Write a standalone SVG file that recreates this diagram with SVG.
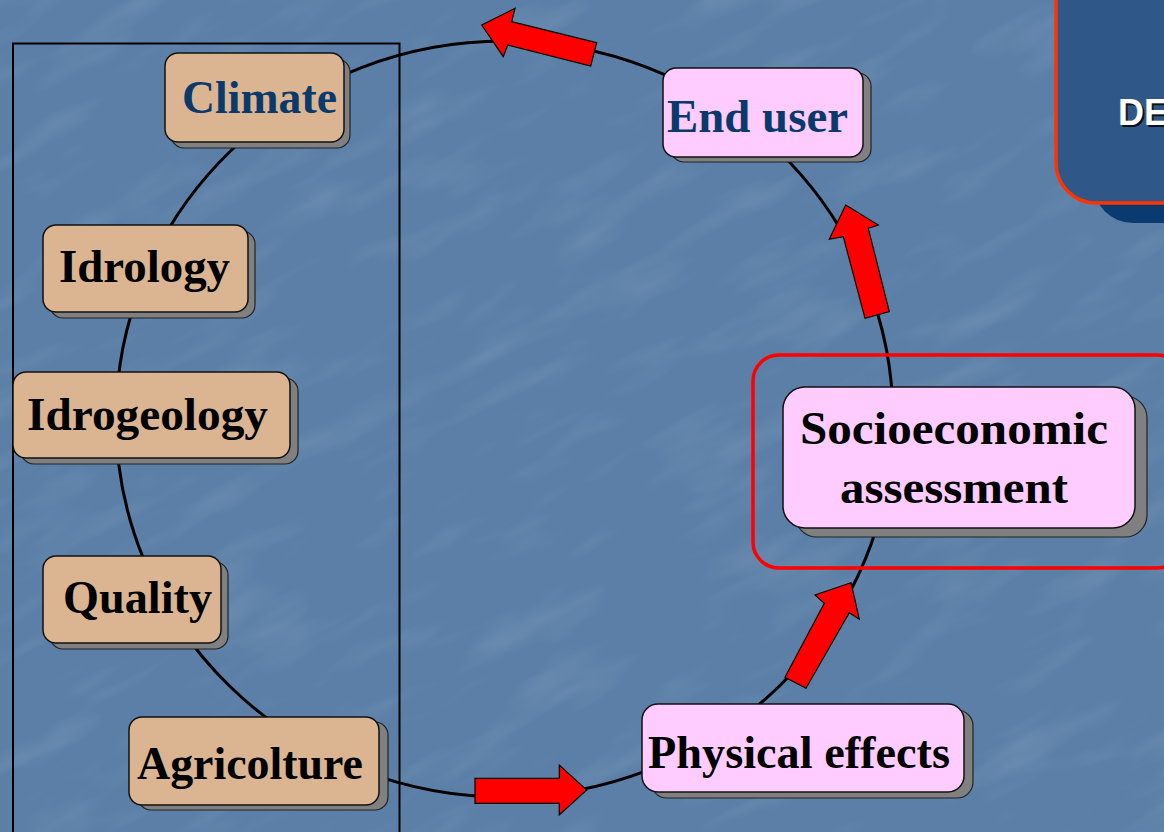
<svg xmlns="http://www.w3.org/2000/svg" width="1164" height="832" viewBox="0 0 1164 832">
  <defs>
    <filter id="tex" x="0" y="0" width="100%" height="100%">
      <feTurbulence type="fractalNoise" baseFrequency="0.008 0.03" numOctaves="3" seed="4" result="n"/>
      <feColorMatrix in="n" type="matrix" values="0 0 0 0 1  0 0 0 0 1  0 0 0 0 1  0 0 0 1.1 -0.55"/>
    </filter>
    <style>
      .shadow { fill: #808080; stroke: #222; stroke-width: 1.2; }
      .tan { fill: #dbb592; stroke: #111; stroke-width: 1.5; }
      .pink { fill: #ffccff; stroke: #111; stroke-width: 1.5; }
      .lbl { font-family: "Liberation Serif", "Times New Roman", serif; font-weight: bold; font-size: 46px; fill: #000; }
      .navy { fill: #0a3a6c; }
      .arrow { fill: #ff0000; stroke: #000; stroke-width: 1.2; stroke-linejoin: miter; }
      .de { font-family: "Liberation Sans", Arial, sans-serif; font-weight: bold; font-size: 36px; }
    </style>
  </defs>

  <!-- background -->
  <rect x="0" y="0" width="1164" height="832" fill="#5b7fa7"/>
  <g transform="rotate(-28 582 416)" opacity="0.22">
    <rect x="-400" y="-400" width="1964" height="1632" filter="url(#tex)"/>
  </g>

  <!-- top-right panel -->
  <g id="panel">
    <rect x="1093" y="-60" width="120" height="283" rx="40" fill="#0a3a70"/>
    <rect x="1056" y="-60" width="150" height="263" rx="40" fill="#2f5889" stroke="#ff3300" stroke-width="3.5"/>
    <text class="de" x="1120" y="127" fill="#000" opacity="0.8">DE</text>
    <text class="de" x="1118" y="125" fill="#ffffff">DE</text>
  </g>

  <!-- left frame -->
  <rect id="frame" x="13" y="43.5" width="386.5" height="800" fill="none" stroke="#000" stroke-width="2"/>

  <!-- connectors -->
  <g id="connectors">
    <ellipse cx="504.5" cy="419" rx="388.5" ry="378" fill="none" stroke="#000" stroke-width="3"/>
    <polygon class="arrow" points="481.7,25 515,8.3 511.7,21.7 596.7,42.7 590.7,66 507.7,45 503.3,56.7"/>
    <polygon class="arrow" points="845.7,205 878.3,225 868.3,228.3 889.3,311.7 865,318.3 843.3,236.7 829.3,239.3"/>
    <polygon class="arrow" points="851,582.7 859.3,619.3 849.3,612.7 806,688.3 785,677.3 824.3,603.3 815,595"/>
    <polygon class="arrow" points="475,778.3 559.3,778.3 559.3,765 586.7,790 559.3,815 559.3,803.3 475,803.3"/>
  </g>

  <!-- socioeconomic highlight -->
  <rect id="highlight" x="753" y="355" width="430" height="213" rx="26" fill="none" stroke="#ff0000" stroke-width="3.5"/>

  <g id="climate">
    <rect class="shadow" x="171" y="59" width="179" height="89" rx="13"/>
    <rect class="tan" x="165" y="53" width="179" height="89" rx="13"/>
    <text class="lbl navy" x="182" y="113" textLength="155" lengthAdjust="spacingAndGlyphs">Climate</text>
  </g>

  <g id="idrology">
    <rect class="shadow" x="50" y="231" width="205" height="87" rx="13"/>
    <rect class="tan" x="43" y="225" width="205" height="87" rx="13"/>
    <text class="lbl" x="59" y="282" textLength="171" lengthAdjust="spacingAndGlyphs">Idrology</text>
  </g>

  <g id="idrogeology">
    <rect class="shadow" x="21" y="378" width="277" height="86" rx="13"/>
    <rect class="tan" x="13" y="372" width="277" height="86" rx="13"/>
    <text class="lbl" x="27" y="430" textLength="241" lengthAdjust="spacingAndGlyphs">Idrogeology</text>
  </g>

  <g id="quality">
    <rect class="shadow" x="50" y="562" width="178" height="87" rx="13"/>
    <rect class="tan" x="43" y="556" width="178" height="87" rx="13"/>
    <text class="lbl" x="63" y="613" textLength="149" lengthAdjust="spacingAndGlyphs">Quality</text>
  </g>

  <g id="agricolture">
    <rect class="shadow" x="138" y="722" width="250" height="88" rx="13"/>
    <rect class="tan" x="129" y="717" width="250" height="88" rx="13"/>
    <text class="lbl" x="137" y="779" textLength="226" lengthAdjust="spacingAndGlyphs">Agricolture</text>
  </g>

  <g id="enduser">
    <rect class="shadow" x="671" y="73" width="200" height="89" rx="13"/>
    <rect class="pink" x="663" y="68" width="200" height="89" rx="13"/>
    <text class="lbl navy" x="667" y="132" textLength="181" lengthAdjust="spacingAndGlyphs">End user</text>
  </g>

  <g id="socioeconomic">
    <rect class="shadow" x="795" y="396" width="352" height="141" rx="22"/>
    <rect class="pink" x="783" y="387" width="352" height="141" rx="22"/>
    <text class="lbl" x="800" y="444" textLength="308" lengthAdjust="spacingAndGlyphs">Socioeconomic</text>
    <text class="lbl" x="840" y="503" textLength="228" lengthAdjust="spacingAndGlyphs">assessment</text>
  </g>

  <g id="physical">
    <rect class="shadow" x="651" y="710" width="322" height="88" rx="16"/>
    <rect class="pink" x="642" y="704" width="322" height="88" rx="16"/>
    <text class="lbl" x="648" y="768" textLength="302" lengthAdjust="spacingAndGlyphs">Physical effects</text>
  </g>
</svg>
